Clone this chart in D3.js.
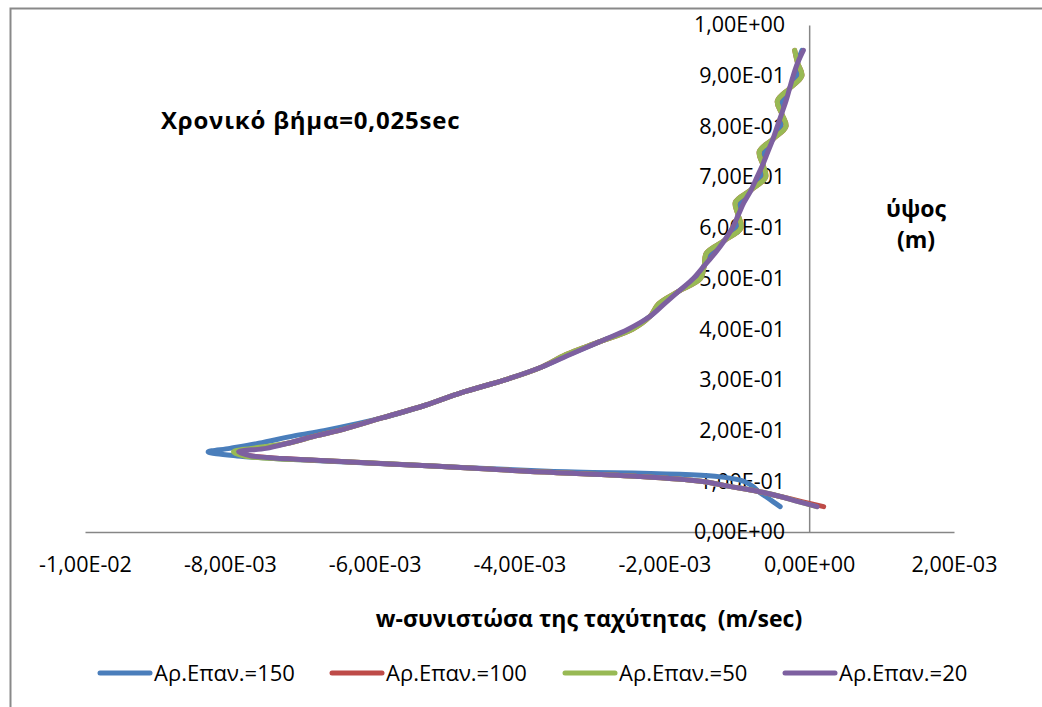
<!DOCTYPE html>
<html>
<head>
<meta charset="utf-8">
<script src="https://cdn.jsdelivr.net/npm/d3@7"></script>
<style>
  body { margin: 0; background: #fff; }
  text { font-family: "Open Sans", sans-serif; fill: #000; }
</style>
</head>
<body>
<div id="chart"></div>
<script>
// height (m) shared by all four runs
var heights = [0.05, 0.06, 0.07, 0.08, 0.09, 0.10, 0.11, 0.12, 0.13, 0.14, 0.15, 0.158, 0.165, 0.175, 0.19, 0.20,
  0.225, 0.25, 0.275, 0.30, 0.325, 0.35, 0.375, 0.40, 0.425, 0.45, 0.475, 0.50, 0.525, 0.55, 0.575, 0.60,
  0.625, 0.65, 0.675, 0.70, 0.725, 0.75, 0.775, 0.80, 0.825, 0.85, 0.875, 0.90, 0.925, 0.95];

// w velocity (m/sec) per run
var w150 = [-0.0004, -0.0005, -0.0006, -0.0007, -0.00078, -0.0009, -0.0013, -0.0036, -0.0052, -0.0067, -0.0079, -0.0083, -0.0080, -0.0076, -0.0071, -0.0067,
  -0.0059, -0.0053, -0.0048, -0.0042, -0.0037, -0.00332, -0.0029, -0.00247, -0.0022, -0.00203, -0.0018, -0.00155, -0.00145, -0.00135, -0.00117, -0.00101,
  -0.00098, -0.00095, -0.0008, -0.00067, -0.00064, -0.00062, -0.0005, -0.00039, -0.00038, -0.00037, -0.00027, -0.00017, -0.00016, -0.0001];
var w100 = [0.0002, -0.0001, -0.0004, -0.0007, -0.0011, -0.0015, -0.0024, -0.0039, -0.0052, -0.0066, -0.0077, -0.0079, -0.0076, -0.0072, -0.0068, -0.0065,
  -0.0059, -0.0053, -0.0048, -0.0042, -0.0037, -0.00336, -0.0029, -0.00244, -0.0022, -0.00208, -0.0018, -0.0015, -0.00145, -0.00142, -0.00117, -0.00094,
  -0.00098, -0.00102, -0.0008, -0.0006, -0.00064, -0.00069, -0.0005, -0.00032, -0.00038, -0.00044, -0.00027, -0.0001, -0.00016, -0.0002];
var w50 = [0.0001, -0.00015, -0.0004, -0.0007, -0.0011, -0.0015, -0.0024, -0.0039, -0.0052, -0.0066, -0.0078, -0.00795, -0.0077, -0.0072, -0.0068, -0.0065,
  -0.0059, -0.0053, -0.0048, -0.0042, -0.0037, -0.00336, -0.0029, -0.00244, -0.0022, -0.00208, -0.0018, -0.0015, -0.00145, -0.00142, -0.00117, -0.00094,
  -0.00098, -0.00102, -0.0008, -0.0006, -0.00064, -0.00069, -0.0005, -0.00032, -0.00038, -0.00044, -0.00027, -0.0001, -0.00016, -0.0002];
var w20 = [0.00011, -0.00015, -0.0004, -0.0007, -0.0011, -0.0015, -0.0024, -0.0039, -0.0052, -0.0066, -0.0077, -0.00788, -0.0075, -0.0072, -0.0068, -0.0065,
  -0.0059, -0.0053, -0.0048, -0.0042, -0.0037, -0.0033, -0.0029, -0.0025, -0.0022, -0.0020, -0.0018, -0.0016, -0.00145, -0.0013, -0.00117, -0.00106,
  -0.00098, -0.0009, -0.0008, -0.00072, -0.00064, -0.00057, -0.0005, -0.00044, -0.00038, -0.00032, -0.00027, -0.00022, -0.00016, -0.00008];

var seriesNames = ["Αρ.Επαν.=150", "Αρ.Επαν.=100", "Αρ.Επαν.=50", "Αρ.Επαν.=20"];
var seriesColors = ["#4a7ebb", "#be4b48", "#98b954", "#7d60a0"];
var xTicks = [-0.01, -0.008, -0.006, -0.004, -0.002, 0, 0.002];
var yTicks = [0, 0.1, 0.2, 0.3, 0.4, 0.5, 0.6, 0.7, 0.8, 0.9, 1.0];

var width = 1042, height = 707;

var svg = d3.select("#chart").append("svg")
    .attr("width", width)
    .attr("height", height);

// chart frame (runs off the bottom/right of the picture)
svg.append("rect")
    .attr("x", 10.5).attr("y", 8.5)
    .attr("width", 1040).attr("height", 720)
    .attr("fill", "none")
    .attr("stroke", "#898989")
    .attr("stroke-width", 2);

var x = d3.scaleLinear().domain([-0.01, 0.002]).range([85, 954]);
var y = d3.scaleLinear().domain([0, 1]).range([532, 25]);

function sci(v) {
  var s = v.toExponential(2).split("e");
  var m = s[0].replace(".", ",");
  var e = +s[1];
  var es = (e < 0 ? "-" : "+") + (Math.abs(e) < 10 ? "0" : "") + Math.abs(e);
  return m + "E" + es;
}

var xAxis = svg.append("g")
    .attr("transform", "translate(0," + y(0) + ")")
    .call(d3.axisBottom(x).tickValues(xTicks).tickSize(0).tickPadding(25).tickFormat(sci));

var yAxis = svg.append("g")
    .attr("transform", "translate(" + x(0) + ",0)")
    .call(d3.axisLeft(y).tickValues(yTicks).tickSize(0).tickPadding(24).tickFormat(sci));

[xAxis, yAxis].forEach(function(g) {
  g.select(".domain").attr("stroke", "#868686").attr("stroke-width", 1.5);
  g.selectAll("text")
    .style("font-size", "21.5px")
    .style("font-family", "'Open Sans', sans-serif")
    .attr("fill", "#000");
});

var line = d3.line()
    .x(function(d) { return x(d.w); })
    .y(function(d) { return y(d.h); })
    .curve(d3.curveCatmullRom.alpha(0.5));

var allSeries = [w150, w100, w50, w20].map(function(vals, i) {
  return {
    name: seriesNames[i],
    color: seriesColors[i],
    points: vals.map(function(v, j) { return {w: v, h: heights[j]}; })
  };
});

svg.selectAll("path.series")
    .data(allSeries)
  .enter().append("path")
    .attr("class", "series")
    .attr("fill", "none")
    .attr("stroke", function(d) { return d.color; })
    .attr("stroke-width", 5)
    .attr("stroke-linecap", "round")
    .attr("stroke-linejoin", "round")
    .attr("d", function(d) { return line(d.points); });

// labels
svg.append("text")
    .attr("x", 161).attr("y", 129)
    .style("font-size", "24px").style("font-weight", "bold")
    .style("letter-spacing", "0.8px")
    .text("Χρονικό βήμα=0,025sec");

svg.append("text")
    .attr("x", 916).attr("y", 217)
    .attr("text-anchor", "middle")
    .style("font-size", "23px").style("font-weight", "bold")
    .text("ύψος");
svg.append("text")
    .attr("x", 916).attr("y", 248)
    .attr("text-anchor", "middle")
    .style("font-size", "23px").style("font-weight", "bold")
    .text("(m)");

svg.append("text")
    .attr("x", 589).attr("y", 627)
    .attr("text-anchor", "middle")
    .style("font-size", "23px").style("font-weight", "bold")
    .style("white-space", "pre")
    .attr("xml:space", "preserve")
    .text("w-συνιστώσα της ταχύτητας  (m/sec)");

// legend
var legendX = [100, 332, 565, 785];
var leg = svg.selectAll("g.legend")
    .data(allSeries)
  .enter().append("g")
    .attr("class", "legend")
    .attr("transform", function(d, i) { return "translate(" + legendX[i] + ",673)"; });

leg.append("line")
    .attr("x1", 0).attr("x2", 50)
    .attr("stroke", function(d) { return d.color; })
    .attr("stroke-width", 5)
    .attr("stroke-linecap", "round");

leg.append("text")
    .attr("x", 54).attr("y", 8)
    .style("font-size", "22px")
    .text(function(d) { return d.name; });
</script>
</body>
</html>
